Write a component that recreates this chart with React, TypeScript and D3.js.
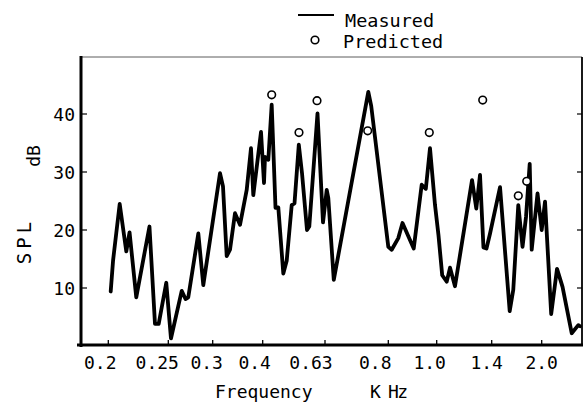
import React, { useEffect, useRef } from "react";
import * as d3 from "d3";

// x axis: frequency bands (kHz), the paper's axis is not evenly spaced
const tickFreqs = [0.2, 0.25, 0.3, 0.4, 0.63, 0.8, 1.0, 1.4, 2.0];
const tickLabels = ["0.2", "0.25", "0.3", "0.4", "0.63", "0.8", "1.0", "1.4", "2.0"];
const yTicks = [10, 20, 30, 40];

// measured SPL (dB) vs frequency (kHz)
const measuredFreq = [
  0.202, 0.204, 0.2095, 0.215, 0.2177, 0.2233, 0.2343, 0.2389, 0.242, 0.2483,
  0.253, 0.2651, 0.2694, 0.2725, 0.2838, 0.2894, 0.3146, 0.3206, 0.328, 0.3346,
  0.3446, 0.3546, 0.368, 0.3766, 0.3812, 0.3966, 0.4048, 0.4085, 0.4207, 0.4332,
  0.4473, 0.4576, 0.4761, 0.4886, 0.5071, 0.5174, 0.5333, 0.5451, 0.5636, 0.572,
  0.6023, 0.6226, 0.6346, 0.6389, 0.6536, 0.7463, 0.7541, 0.8, 0.814, 0.8413,
  0.8587, 0.905, 0.938, 0.955, 0.9723, 0.993, 1.013, 1.04, 1.073, 1.097,
  1.133, 1.257, 1.288, 1.315, 1.34, 1.362, 1.388, 1.5, 1.616, 1.659,
  1.719, 1.77, 1.812, 1.856, 1.88, 1.95, 2.0, 2.04, 2.114, 2.184,
  2.25, 2.36, 2.439, 2.46,
];
const measuredSpl = [
  9.4, 14.8, 24.5, 16.3, 19.6, 8.4, 20.6, 3.8, 3.8, 10.9,
  1.3, 9.5, 8.1, 8.4, 19.4, 10.5, 29.8, 27.5, 15.5, 16.6,
  22.9, 20.9, 26.9, 34.1, 26.0, 36.9, 28.1, 32.6, 32.1, 41.6,
  23.8, 23.9, 12.5, 14.7, 24.3, 24.6, 34.7, 29.8, 20.0, 20.6,
  40.1, 21.3, 26.9, 25.5, 11.4, 43.8, 41.4, 17.1, 16.6, 18.6,
  21.2, 16.8, 27.8, 27.1, 34.1, 24.3, 19.1, 12.2, 11.1, 13.5,
  10.3, 28.6, 23.7, 29.5, 17.0, 16.8, 19.4, 27.4, 6.0, 9.7,
  24.3, 17.1, 22.3, 31.4, 16.6, 26.3, 20.0, 24.9, 5.5, 13.3,
  10.2, 2.2, 3.6, 3.4,
];

// predicted peaks
const predictedFreq = [0.4332, 0.534, 0.6005, 0.7447, 0.9694, 1.3346, 1.719, 1.82];
const predictedSpl = [43.3, 36.8, 42.3, 37.1, 36.8, 42.4, 25.9, 28.4];

const W = 586, H = 408;
const FONT = "'DejaVu Sans Mono', monospace";

export default function App() {
  const ref = useRef<SVGSVGElement>(null);

  useEffect(() => {
    const svg = d3.select(ref.current);
    svg.selectAll("*").remove();

    const left = 81, right = 582, top = 56, bottom = 346;
    // pixel place of each band tick along the axis
    const tickPx = [108.3, 168.3, 212.7, 262.7, 325, 388.3, 436.7, 491.7, 541.7];
    const labelNudge = [-8, -11, -6, -8, -14, -13, -7, -5, 0];

    const x = d3.scaleLinear()
      .domain([0.1773, ...tickFreqs, 2.4836])
      .range([left, ...tickPx, right]);
    const y = d3.scaleLinear().domain([0, 50]).range([bottom, top]);

    // frame
    svg.append("line").attr("x1", left).attr("x2", right).attr("y1", top + 1).attr("y2", top + 1)
      .attr("stroke", "#333").attr("stroke-width", 0.8);
    svg.append("line").attr("x1", right).attr("x2", right).attr("y1", top + 1).attr("y2", bottom)
      .attr("stroke", "#000").attr("stroke-width", 1.8);
    svg.append("line").attr("x1", left).attr("x2", left).attr("y1", top).attr("y2", bottom + 1)
      .attr("stroke", "#000").attr("stroke-width", 3);
    svg.append("line").attr("x1", 77).attr("x2", right + 1).attr("y1", bottom - 1).attr("y2", bottom - 1)
      .attr("stroke", "#000").attr("stroke-width", 3);

    // y ticks, pointing inward
    const yg = svg.append("g");
    yg.selectAll(".yt").data(yTicks).join("line").attr("class", "yt")
      .attr("x1", left).attr("x2", left + 6)
      .attr("y1", d => y(d)).attr("y2", d => y(d))
      .attr("stroke", "#000").attr("stroke-width", 1.2);
    yg.selectAll(".ytr").data(yTicks).join("line").attr("class", "ytr")
      .attr("x1", right - 5).attr("x2", right)
      .attr("y1", d => y(d)).attr("y2", d => y(d))
      .attr("stroke", "#000").attr("stroke-width", 1.2);
    yg.selectAll(".yl").data(yTicks).join("text").attr("class", "yl")
      .attr("x", 75).attr("y", d => y(d) + 6.5)
      .attr("text-anchor", "end")
      .style("font-family", FONT).style("font-size", "18px")
      .text(d => d);

    // x ticks, pointing up
    const xg = svg.append("g");
    xg.selectAll(".xt").data(tickFreqs).join("line").attr("class", "xt")
      .attr("x1", d => x(d)).attr("x2", d => x(d))
      .attr("y1", bottom - 1).attr("y2", bottom - 6)
      .attr("stroke", "#000").attr("stroke-width", 1.3);
    xg.selectAll(".xl").data(tickFreqs).join("text").attr("class", "xl")
      .attr("x", (d, i) => x(d) + labelNudge[i]).attr("y", 369)
      .attr("text-anchor", "middle")
      .style("font-family", FONT).style("font-size", "18px")
      .text((d, i) => tickLabels[i]);

    // axis titles
    svg.append("text").attr("x", 215).attr("y", 398)
      .style("font-family", FONT).style("font-size", "18px").text("Frequency");
    svg.append("text").attr("x", 370).attr("y", 398)
      .style("font-family", FONT).style("font-size", "18px").attr("textLength", 38)
      .text("K Hz");
    svg.append("text").attr("transform", "translate(31,241) rotate(-90)")
      .attr("text-anchor", "middle")
      .style("font-family", FONT).style("font-size", "19px").style("letter-spacing", "4px")
      .text("SPL");
    svg.append("text").attr("transform", "translate(40,156) rotate(-90)")
      .attr("text-anchor", "middle")
      .style("font-family", FONT).style("font-size", "18px")
      .text("dB");

    // measured curve
    const pts = measuredFreq.map((f, i) => [f, measuredSpl[i]] as [number, number]);
    const line = d3.line<[number, number]>().x(d => x(d[0])).y(d => y(d[1]));
    svg.append("path").attr("d", line(pts))
      .attr("fill", "none").attr("stroke", "#000")
      .attr("stroke-width", 3.8).attr("stroke-linejoin", "round").attr("stroke-linecap", "round");

    // predicted points
    svg.selectAll(".pred").data(predictedFreq).join("circle").attr("class", "pred")
      .attr("cx", d => x(d)).attr("cy", (d, i) => y(predictedSpl[i]))
      .attr("r", 3.8).attr("fill", "#fff").attr("stroke", "#000").attr("stroke-width", 1.6);

    // legend
    svg.append("line").attr("x1", 298).attr("x2", 334).attr("y1", 15).attr("y2", 15)
      .attr("stroke", "#000").attr("stroke-width", 2);
    svg.append("text").attr("x", 345).attr("y", 27)
      .style("font-family", FONT).style("font-size", "18.5px").text("Measured");
    svg.append("circle").attr("cx", 315).attr("cy", 40).attr("r", 3.8)
      .attr("fill", "#fff").attr("stroke", "#000").attr("stroke-width", 1.6);
    svg.append("text").attr("x", 343).attr("y", 48)
      .style("font-family", FONT).style("font-size", "18.5px").text("Predicted");
  }, []);

  return (
    <svg ref={ref} width={W} height={H}
      style={{ position: "absolute", left: 0, top: 0, background: "#fff" }} />
  );
}
